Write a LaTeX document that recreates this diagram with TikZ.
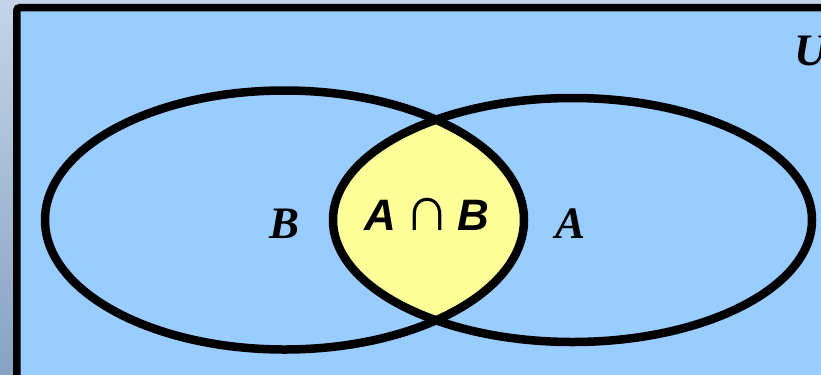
\documentclass[tikz,border=0pt]{standalone}
\usepackage{fontspec}
\setmainfont{Liberation Serif}
\newfontfamily\labsans{Liberation Sans}
\definecolor{bgblue}{HTML}{99CCFF}
\definecolor{lensyellow}{HTML}{FFFF99}
\definecolor{framegrey}{HTML}{C4D4E6}
\definecolor{framedark}{HTML}{87A2C3}
\tikzset{
  setline/.style={line width=8.5bp, draw=black},
  setlabel/.style={font=\fontsize{45bp}{45bp}\selectfont\bfseries\itshape, inner sep=0pt, anchor=base},
  lenslabel/.style={font=\fontsize{44bp}{44bp}\selectfont\labsans\bfseries\itshape, inner sep=0pt, anchor=base}
}
\begin{document}
\begin{tikzpicture}[x=1bp,y=-1bp]
\useasboundingbox (0,0) rectangle (821,374);
% outer background
\shade[top color=framegrey, bottom color=framedark] (0,0) rectangle (821,374);
% universe rectangle
\draw[line width=7.5bp, fill=bgblue, rounded corners=3bp] (16.8,7.6) rectangle (840,390);
% intersection fill
\begin{scope}
  \clip (284.5,220) ellipse [x radius=239.5, y radius=129.5];
  \fill[lensyellow] (572.5,220) ellipse [x radius=239.5, y radius=122];
\end{scope}
% ellipses
\draw[setline] (284.5,220) ellipse [x radius=239.5, y radius=129.5];
\draw[setline] (572.5,220) ellipse [x radius=239.5, y radius=122];
% labels
\node[setlabel] (lb) at (284.5,238) {B};
\node[setlabel] (la) at (570.5,238) {A};
\node[setlabel, anchor=base west] (lu) at (794,65) {U};
\node[lenslabel] (lab) at (427,230) {A\,{\fontsize{64bp}{64bp}\selectfont\mdseries\upshape ∩}\,B};
\end{tikzpicture}
\end{document}
